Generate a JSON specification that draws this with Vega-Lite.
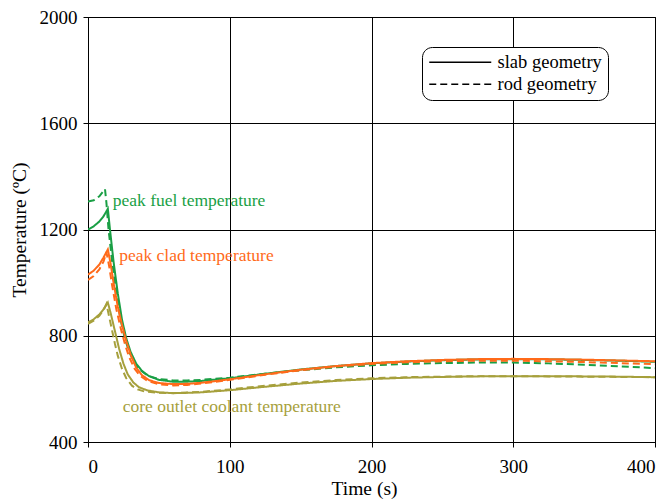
{
  "$schema": "https://vega.github.io/schema/vega-lite/v6.json",
  "autosize": "none",
  "padding": {"left": 88, "top": 17, "right": 5, "bottom": 57},
  "width": 567,
  "height": 425,
  "background": "white",
  "config": {
    "font": "Times New Roman",
    "view": {"stroke": "black", "strokeWidth": 1},
    "text": {"font": "Times New Roman"},
    "axis": {
      "domainColor": "black", "tickColor": "black", "gridColor": "black", "gridOpacity": 1, "gridWidth": 1,
      "labelColor": "black", "titleColor": "black", "labelFont": "Times New Roman", "titleFont": "Times New Roman",
      "labelFontSize": 19, "titleFontSize": 19.5, "titleFontWeight": "normal", "tickSize": 5, "format": "d"
    },
    "legend": {"labelFont": "Times New Roman"}
  },
  "datasets": {
    "lines": [
      {"t":0,"T":1200,"var":"fuel","geom":"slab geometry"},
      {"t":4,"T":1212,"var":"fuel","geom":"slab geometry"},
      {"t":8,"T":1230,"var":"fuel","geom":"slab geometry"},
      {"t":11,"T":1250,"var":"fuel","geom":"slab geometry"},
      {"t":14,"T":1278,"var":"fuel","geom":"slab geometry"},
      {"t":15.5,"T":1200,"var":"fuel","geom":"slab geometry"},
      {"t":18,"T":1080,"var":"fuel","geom":"slab geometry"},
      {"t":21,"T":960,"var":"fuel","geom":"slab geometry"},
      {"t":24,"T":860,"var":"fuel","geom":"slab geometry"},
      {"t":27,"T":790,"var":"fuel","geom":"slab geometry"},
      {"t":30,"T":740,"var":"fuel","geom":"slab geometry"},
      {"t":34,"T":695,"var":"fuel","geom":"slab geometry"},
      {"t":38,"T":668,"var":"fuel","geom":"slab geometry"},
      {"t":43,"T":648,"var":"fuel","geom":"slab geometry"},
      {"t":50,"T":634,"var":"fuel","geom":"slab geometry"},
      {"t":60,"T":627,"var":"fuel","geom":"slab geometry"},
      {"t":70,"T":627,"var":"fuel","geom":"slab geometry"},
      {"t":80,"T":630,"var":"fuel","geom":"slab geometry"},
      {"t":100,"T":640,"var":"fuel","geom":"slab geometry"},
      {"t":125,"T":657,"var":"fuel","geom":"slab geometry"},
      {"t":150,"T":673,"var":"fuel","geom":"slab geometry"},
      {"t":175,"T":686,"var":"fuel","geom":"slab geometry"},
      {"t":200,"T":696,"var":"fuel","geom":"slab geometry"},
      {"t":225,"T":703,"var":"fuel","geom":"slab geometry"},
      {"t":250,"T":708,"var":"fuel","geom":"slab geometry"},
      {"t":275,"T":711,"var":"fuel","geom":"slab geometry"},
      {"t":300,"T":712,"var":"fuel","geom":"slab geometry"},
      {"t":325,"T":711,"var":"fuel","geom":"slab geometry"},
      {"t":350,"T":709,"var":"fuel","geom":"slab geometry"},
      {"t":375,"T":706,"var":"fuel","geom":"slab geometry"},
      {"t":400,"T":702,"var":"fuel","geom":"slab geometry"},

      {"t":0,"T":1305,"var":"fuel","geom":"rod geometry"},
      {"t":4,"T":1310,"var":"fuel","geom":"rod geometry"},
      {"t":8,"T":1325,"var":"fuel","geom":"rod geometry"},
      {"t":12,"T":1352,"var":"fuel","geom":"rod geometry"},
      {"t":13,"T":1300,"var":"fuel","geom":"rod geometry"},
      {"t":14.5,"T":1200,"var":"fuel","geom":"rod geometry"},
      {"t":17,"T":1080,"var":"fuel","geom":"rod geometry"},
      {"t":20,"T":960,"var":"fuel","geom":"rod geometry"},
      {"t":23,"T":860,"var":"fuel","geom":"rod geometry"},
      {"t":26,"T":790,"var":"fuel","geom":"rod geometry"},
      {"t":29,"T":740,"var":"fuel","geom":"rod geometry"},
      {"t":33,"T":695,"var":"fuel","geom":"rod geometry"},
      {"t":37,"T":670,"var":"fuel","geom":"rod geometry"},
      {"t":42,"T":650,"var":"fuel","geom":"rod geometry"},
      {"t":50,"T":637,"var":"fuel","geom":"rod geometry"},
      {"t":60,"T":632,"var":"fuel","geom":"rod geometry"},
      {"t":70,"T":632,"var":"fuel","geom":"rod geometry"},
      {"t":80,"T":634,"var":"fuel","geom":"rod geometry"},
      {"t":100,"T":642,"var":"fuel","geom":"rod geometry"},
      {"t":125,"T":657,"var":"fuel","geom":"rod geometry"},
      {"t":150,"T":670,"var":"fuel","geom":"rod geometry"},
      {"t":175,"T":681,"var":"fuel","geom":"rod geometry"},
      {"t":200,"T":689,"var":"fuel","geom":"rod geometry"},
      {"t":225,"T":694,"var":"fuel","geom":"rod geometry"},
      {"t":250,"T":697,"var":"fuel","geom":"rod geometry"},
      {"t":275,"T":699,"var":"fuel","geom":"rod geometry"},
      {"t":300,"T":699,"var":"fuel","geom":"rod geometry"},
      {"t":325,"T":696,"var":"fuel","geom":"rod geometry"},
      {"t":350,"T":691,"var":"fuel","geom":"rod geometry"},
      {"t":375,"T":685,"var":"fuel","geom":"rod geometry"},
      {"t":400,"T":678,"var":"fuel","geom":"rod geometry"},

      {"t":0,"T":1030,"var":"clad","geom":"slab geometry"},
      {"t":4,"T":1045,"var":"clad","geom":"slab geometry"},
      {"t":8,"T":1068,"var":"clad","geom":"slab geometry"},
      {"t":11,"T":1095,"var":"clad","geom":"slab geometry"},
      {"t":14,"T":1125,"var":"clad","geom":"slab geometry"},
      {"t":16,"T":1070,"var":"clad","geom":"slab geometry"},
      {"t":18,"T":1000,"var":"clad","geom":"slab geometry"},
      {"t":21,"T":910,"var":"clad","geom":"slab geometry"},
      {"t":24,"T":840,"var":"clad","geom":"slab geometry"},
      {"t":27,"T":780,"var":"clad","geom":"slab geometry"},
      {"t":30,"T":730,"var":"clad","geom":"slab geometry"},
      {"t":34,"T":680,"var":"clad","geom":"slab geometry"},
      {"t":38,"T":652,"var":"clad","geom":"slab geometry"},
      {"t":43,"T":633,"var":"clad","geom":"slab geometry"},
      {"t":50,"T":622,"var":"clad","geom":"slab geometry"},
      {"t":60,"T":618,"var":"clad","geom":"slab geometry"},
      {"t":70,"T":619,"var":"clad","geom":"slab geometry"},
      {"t":80,"T":623,"var":"clad","geom":"slab geometry"},
      {"t":100,"T":636,"var":"clad","geom":"slab geometry"},
      {"t":125,"T":655,"var":"clad","geom":"slab geometry"},
      {"t":150,"T":672,"var":"clad","geom":"slab geometry"},
      {"t":175,"T":686,"var":"clad","geom":"slab geometry"},
      {"t":200,"T":697,"var":"clad","geom":"slab geometry"},
      {"t":225,"T":704,"var":"clad","geom":"slab geometry"},
      {"t":250,"T":709,"var":"clad","geom":"slab geometry"},
      {"t":275,"T":712,"var":"clad","geom":"slab geometry"},
      {"t":300,"T":713,"var":"clad","geom":"slab geometry"},
      {"t":325,"T":712,"var":"clad","geom":"slab geometry"},
      {"t":350,"T":710,"var":"clad","geom":"slab geometry"},
      {"t":375,"T":707,"var":"clad","geom":"slab geometry"},
      {"t":400,"T":704,"var":"clad","geom":"slab geometry"},

      {"t":0,"T":1010,"var":"clad","geom":"rod geometry"},
      {"t":4,"T":1025,"var":"clad","geom":"rod geometry"},
      {"t":8,"T":1050,"var":"clad","geom":"rod geometry"},
      {"t":11,"T":1080,"var":"clad","geom":"rod geometry"},
      {"t":13,"T":1115,"var":"clad","geom":"rod geometry"},
      {"t":15,"T":1060,"var":"clad","geom":"rod geometry"},
      {"t":17,"T":990,"var":"clad","geom":"rod geometry"},
      {"t":20,"T":900,"var":"clad","geom":"rod geometry"},
      {"t":23,"T":830,"var":"clad","geom":"rod geometry"},
      {"t":26,"T":770,"var":"clad","geom":"rod geometry"},
      {"t":29,"T":720,"var":"clad","geom":"rod geometry"},
      {"t":33,"T":675,"var":"clad","geom":"rod geometry"},
      {"t":37,"T":648,"var":"clad","geom":"rod geometry"},
      {"t":42,"T":630,"var":"clad","geom":"rod geometry"},
      {"t":50,"T":617,"var":"clad","geom":"rod geometry"},
      {"t":60,"T":613,"var":"clad","geom":"rod geometry"},
      {"t":70,"T":615,"var":"clad","geom":"rod geometry"},
      {"t":80,"T":620,"var":"clad","geom":"rod geometry"},
      {"t":100,"T":634,"var":"clad","geom":"rod geometry"},
      {"t":125,"T":653,"var":"clad","geom":"rod geometry"},
      {"t":150,"T":670,"var":"clad","geom":"rod geometry"},
      {"t":175,"T":684,"var":"clad","geom":"rod geometry"},
      {"t":200,"T":694,"var":"clad","geom":"rod geometry"},
      {"t":225,"T":700,"var":"clad","geom":"rod geometry"},
      {"t":250,"T":704,"var":"clad","geom":"rod geometry"},
      {"t":275,"T":706,"var":"clad","geom":"rod geometry"},
      {"t":300,"T":706,"var":"clad","geom":"rod geometry"},
      {"t":325,"T":704,"var":"clad","geom":"rod geometry"},
      {"t":350,"T":701,"var":"clad","geom":"rod geometry"},
      {"t":375,"T":697,"var":"clad","geom":"rod geometry"},
      {"t":400,"T":693,"var":"clad","geom":"rod geometry"},

      {"t":0,"T":850,"var":"coolant","geom":"slab geometry"},
      {"t":4,"T":862,"var":"coolant","geom":"slab geometry"},
      {"t":8,"T":880,"var":"coolant","geom":"slab geometry"},
      {"t":11,"T":900,"var":"coolant","geom":"slab geometry"},
      {"t":14,"T":925,"var":"coolant","geom":"slab geometry"},
      {"t":16,"T":885,"var":"coolant","geom":"slab geometry"},
      {"t":18,"T":840,"var":"coolant","geom":"slab geometry"},
      {"t":20,"T":795,"var":"coolant","geom":"slab geometry"},
      {"t":22,"T":750,"var":"coolant","geom":"slab geometry"},
      {"t":25,"T":695,"var":"coolant","geom":"slab geometry"},
      {"t":28,"T":655,"var":"coolant","geom":"slab geometry"},
      {"t":32,"T":624,"var":"coolant","geom":"slab geometry"},
      {"t":36,"T":606,"var":"coolant","geom":"slab geometry"},
      {"t":42,"T":594,"var":"coolant","geom":"slab geometry"},
      {"t":50,"T":587,"var":"coolant","geom":"slab geometry"},
      {"t":60,"T":584,"var":"coolant","geom":"slab geometry"},
      {"t":70,"T":585,"var":"coolant","geom":"slab geometry"},
      {"t":80,"T":587,"var":"coolant","geom":"slab geometry"},
      {"t":100,"T":595,"var":"coolant","geom":"slab geometry"},
      {"t":125,"T":608,"var":"coolant","geom":"slab geometry"},
      {"t":150,"T":620,"var":"coolant","geom":"slab geometry"},
      {"t":175,"T":630,"var":"coolant","geom":"slab geometry"},
      {"t":200,"T":637,"var":"coolant","geom":"slab geometry"},
      {"t":225,"T":642,"var":"coolant","geom":"slab geometry"},
      {"t":250,"T":645,"var":"coolant","geom":"slab geometry"},
      {"t":275,"T":647,"var":"coolant","geom":"slab geometry"},
      {"t":300,"T":648,"var":"coolant","geom":"slab geometry"},
      {"t":325,"T":648,"var":"coolant","geom":"slab geometry"},
      {"t":350,"T":647,"var":"coolant","geom":"slab geometry"},
      {"t":375,"T":646,"var":"coolant","geom":"slab geometry"},
      {"t":400,"T":644,"var":"coolant","geom":"slab geometry"},

      {"t":0,"T":845,"var":"coolant","geom":"rod geometry"},
      {"t":4,"T":857,"var":"coolant","geom":"rod geometry"},
      {"t":8,"T":875,"var":"coolant","geom":"rod geometry"},
      {"t":11,"T":897,"var":"coolant","geom":"rod geometry"},
      {"t":13,"T":920,"var":"coolant","geom":"rod geometry"},
      {"t":15,"T":870,"var":"coolant","geom":"rod geometry"},
      {"t":17,"T":820,"var":"coolant","geom":"rod geometry"},
      {"t":19,"T":770,"var":"coolant","geom":"rod geometry"},
      {"t":21,"T":725,"var":"coolant","geom":"rod geometry"},
      {"t":24,"T":675,"var":"coolant","geom":"rod geometry"},
      {"t":27,"T":640,"var":"coolant","geom":"rod geometry"},
      {"t":31,"T":612,"var":"coolant","geom":"rod geometry"},
      {"t":35,"T":598,"var":"coolant","geom":"rod geometry"},
      {"t":40,"T":590,"var":"coolant","geom":"rod geometry"},
      {"t":50,"T":585,"var":"coolant","geom":"rod geometry"},
      {"t":60,"T":584,"var":"coolant","geom":"rod geometry"},
      {"t":70,"T":586,"var":"coolant","geom":"rod geometry"},
      {"t":80,"T":589,"var":"coolant","geom":"rod geometry"},
      {"t":100,"T":598,"var":"coolant","geom":"rod geometry"},
      {"t":125,"T":612,"var":"coolant","geom":"rod geometry"},
      {"t":150,"T":624,"var":"coolant","geom":"rod geometry"},
      {"t":175,"T":633,"var":"coolant","geom":"rod geometry"},
      {"t":200,"T":640,"var":"coolant","geom":"rod geometry"},
      {"t":225,"T":644,"var":"coolant","geom":"rod geometry"},
      {"t":250,"T":646,"var":"coolant","geom":"rod geometry"},
      {"t":275,"T":648,"var":"coolant","geom":"rod geometry"},
      {"t":300,"T":648,"var":"coolant","geom":"rod geometry"},
      {"t":325,"T":647,"var":"coolant","geom":"rod geometry"},
      {"t":350,"T":646,"var":"coolant","geom":"rod geometry"},
      {"t":375,"T":645,"var":"coolant","geom":"rod geometry"},
      {"t":400,"T":644,"var":"coolant","geom":"rod geometry"}
    ],
    "labels": [
      {"t":17.5,"T":1307,"var":"fuel","label":"peak fuel temperature"},
      {"t":22,"T":1100,"var":"clad","label":"peak clad temperature"},
      {"t":24.5,"T":530,"var":"coolant","label":"core outlet coolant temperature"}
    ]
  },
  "layer": [
    {
      "data": {"name": "lines"},
      "mark": {"type": "line", "strokeWidth": 2, "clip": true},
      "encoding": {
        "x": {"field": "t", "type": "quantitative", "scale": {"domain": [0, 400], "nice": false},
              "axis": {"title": "Time (s)", "values": [0,100,200,300,400], "grid": true, "labelPadding": 10, "titlePadding": 3, "titleX": 276}},
        "y": {"field": "T", "type": "quantitative", "scale": {"domain": [400, 2000], "nice": false, "zero": false},
              "axis": {"title": "Temperature (ºC)", "values": [400,800,1200,1600,2000], "grid": true, "labelPadding": 6, "titlePadding": 10}},
        "color": {"field": "var", "type": "nominal", "scale": {"domain": ["fuel","clad","coolant"], "range": ["#1a9f45","#ff6a1a","#a6a03c"]}, "legend": null},
        "strokeDash": {"field": "geom", "type": "nominal",
          "scale": {"domain": ["slab geometry","rod geometry"], "range": [[1,0],[7,4]]},
          "legend": {"title": null, "orient": "none", "legendX": 334, "legendY": 30, "symbolType": "M-1.6,0H10.8", "symbolSize": 100,
                     "symbolStrokeColor": "black", "symbolStrokeWidth": 1.5, "labelFont": "Times New Roman", "labelFontSize": 18.5,
                     "labelColor": "black", "strokeColor": "black", "fillColor": "white", "cornerRadius": 10, "padding": 6, "rowPadding": 3, "labelOffset": 51}},
        "detail": {"field": "geom"}
      }
    },
    {
      "data": {"name": "labels"},
      "mark": {"type": "text", "align": "left", "baseline": "middle", "font": "Times New Roman", "fontSize": 17.5},
      "encoding": {
        "x": {"field": "t", "type": "quantitative"},
        "y": {"field": "T", "type": "quantitative"},
        "text": {"field": "label"},
        "color": {"field": "var", "type": "nominal", "legend": null}
      }
    }
  ]
}
